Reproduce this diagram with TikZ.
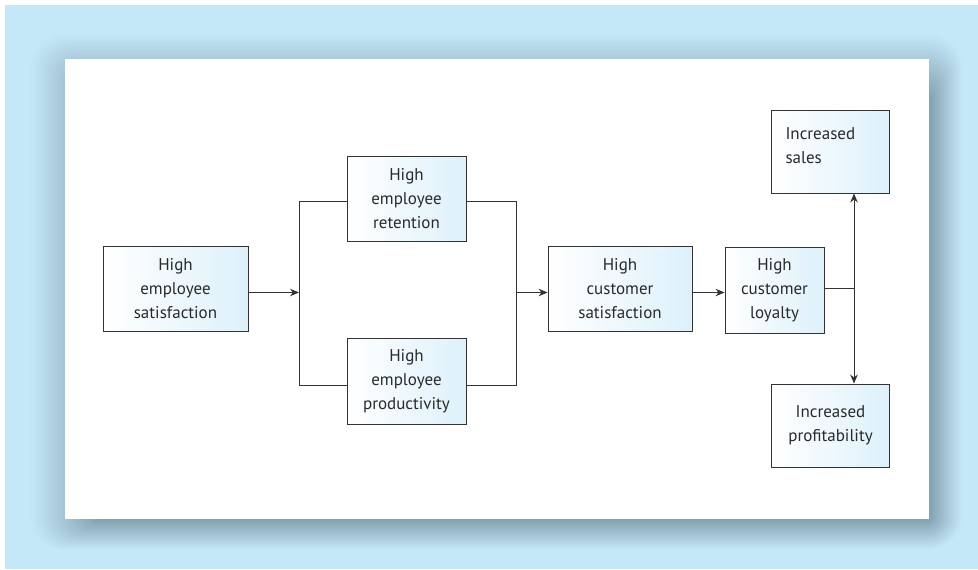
\documentclass[tikz,border=0pt]{standalone}
\usepackage{fontspec}
\setmainfont{PT Sans}
\usetikzlibrary{arrows.meta,positioning}
\definecolor{bgblue}{HTML}{C5E8F9}
\definecolor{shd}{HTML}{82A0AE}
\definecolor{boxblue}{HTML}{DDF1FB}
\definecolor{txt}{HTML}{2A2A2A}
\definecolor{edge}{HTML}{333333}
\tikzset{
  box/.style={draw=edge, line width=0.9pt, left color=white, right color=boxblue,
    text=txt, align=center, font=\fontsize{17}{24}\selectfont, inner sep=0pt},
  conn/.style={draw=edge, line width=0.9pt},
  arr/.style={conn, -{Stealth[length=9pt,width=7.5pt]}},
}
\begin{document}
\begin{tikzpicture}[x=1pt,y=-1pt]
\useasboundingbox (0,0) rectangle (978,570);
\fill[white] (0,0) rectangle (978,570);
\fill[bgblue] (5,5) rectangle (978,569);
% shadow: opaque layers, outermost first
\foreach \k in {40,39,...,1}{
  \pgfmathtruncatemacro\p{100*(1-(\k-0.5)/40)}
  \pgfmathsetmacro\r{4+30*\k/40}
  \fill[shd!\p!bgblue, rounded corners=\r pt]
    ({100-70*\k/40},{98-65*\k/40}) rectangle ({929+33*\k/40},{519+31*\k/40});
}
\fill[white] (65,59) rectangle (929,519);

% nodes
\node[box, minimum width=145pt, minimum height=85pt] (es) at (175.5,289) {High\\employee\\satisfaction};
\node[box, minimum width=119pt, minimum height=85pt] (er) at (406.5,198.5) {High\\employee\\retention};
\node[box, minimum width=119pt, minimum height=86pt] (ep) at (406.5,381.5) {High\\employee\\productivity};
\node[box, minimum width=144pt, minimum height=85pt] (cs) at (620,288.5) {High\\customer\\satisfaction};
\node[box, minimum width=99pt, minimum height=86pt] (cl) at (774.5,290) {High\\customer\\loyalty};
\node[box, minimum width=118pt, minimum height=83pt, align=left, text width=90pt] (is) at (830.5,151.5) {Increased\\sales\\[-13pt]\mbox{}};
\node[box, minimum width=118pt, minimum height=83pt] (ip) at (830.5,425.5) {Increased\\profitability};

% junctions
\coordinate (j1) at (299,292.5);
\coordinate (j1t) at (299,201.5);
\coordinate (j1b) at (299,385.5);
\coordinate (j2) at (516,292.5);
\coordinate (j2t) at (516,201.5);
\coordinate (j2b) at (516,385.5);
\coordinate (j3) at (854,288);

\draw[arr] (es.east |- j1) -- (j1);
\draw[conn] (er.west |- j1t) -- (j1t) -- (j1b) -- (ep.west |- j1b);
\draw[conn] (er.east |- j2t) -- (j2t) -- (j2b) -- (ep.east |- j2b);
\draw[arr] (j2) -- (cs.west |- j2);
\draw[arr] (cs.east |- j2) -- (cl.west |- j2);
\draw[conn] (cl.east |- j3) -- (j3);
\draw[arr] (j3) -- (j3 |- is.south);
\draw[arr] (j3) -- (j3 |- ip.north);
\end{tikzpicture}
\end{document}
